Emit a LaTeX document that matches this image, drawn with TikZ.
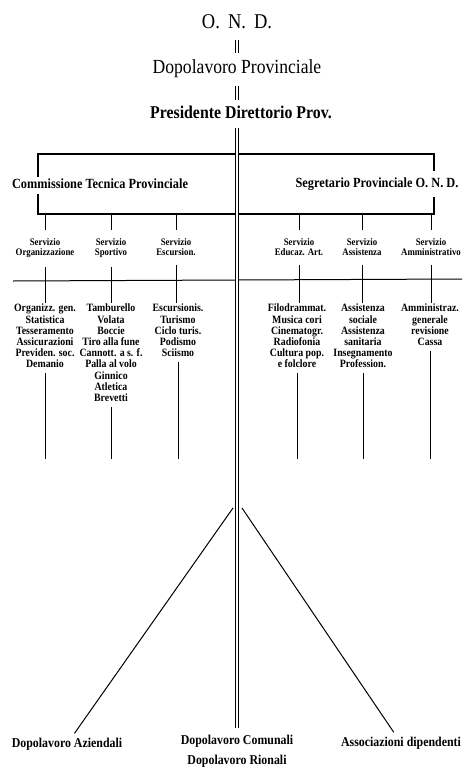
\documentclass[tikz,border=0pt]{standalone}
\usepackage{fontspec}
\setmainfont{Liberation Serif}
\newfontfamily\condfont{Liberation Serif}[FakeStretch=0.88]
\usetikzlibrary{positioning, calc}

\begin{document}
\begin{tikzpicture}[
    x=1pt, y=-1pt,
    % Styles
    top_text/.style={font=\condfont\fontsize{20}{24}\selectfont, inner sep=1pt, anchor=base},
    pres_text/.style={font=\condfont\bfseries\fontsize{18}{22}\selectfont, inner sep=1pt, anchor=base},
    head/.style={font=\condfont\bfseries\fontsize{14}{17}\selectfont, inner sep=1pt, anchor=base},
    servizio/.style={font=\condfont\bfseries\fontsize{10}{10.5}\selectfont, align=center, inner sep=1pt, anchor=north},
    elenco/.style={font=\condfont\bfseries\fontsize{11.2}{11.2}\selectfont, align=center, inner sep=1pt, anchor=north},
    base_text/.style={font=\condfont\bfseries\fontsize{13.5}{20}\selectfont, align=center, inner sep=1pt},
    wire/.style={line width=1.0pt},
    frame/.style={line width=1.3pt},
    spine/.style={double, double distance=2.2pt, line width=0.9pt},
    link/.style={double, double distance=1.4pt, line width=0.9pt}
]
    \useasboundingbox (0,0) rectangle (466,771);

    % --- TOP ---
    \node[top_text, font=\condfont\fontsize{21}{24}\selectfont] (ond) at (237,28) {O.~\,N.~\,D.};
    \node[top_text] (dpv) at (237,73) {Dopolavoro Provinciale};
    \node[pres_text] (pres) at (241,118) {Presidente Direttorio Prov.};

    \draw[link, shorten <=11pt, shorten >=5pt] (ond.south) -- (dpv.north);
    \draw[link, shorten <=8pt, shorten >=4pt] (dpv.south) -- (dpv.south |- pres.north);

    % --- BRACKET ---
    \coordinate (bTL) at (38,154);
    \coordinate (bBR) at (434,214);
    \node[head] (comm) at (100,188) {Commissione Tecnica Provinciale};
    \node[head] (segr) at (377,187) {Segretario Provinciale O. N. D.};

    \draw[frame] (bTL |- comm.north) -- (bTL) -- (bTL -| bBR) -- ([yshift=5pt]bBR |- segr.north);
    \draw[frame, shorten <=5pt] (bTL |- comm.south) -- (bTL |- bBR) -- (bBR) -- ([yshift=-6pt]bBR |- segr.south);

    % --- SERVIZI ---
    \node[servizio] (s1) at (45,237) {Servizio\\Organizzazione};
    \node[servizio] (s2) at (111,237) {Servizio\\Sportivo};
    \node[servizio] (s3) at (176,237) {Servizio\\Escursion.};
    \node[servizio] (s4) at (299,237) {Servizio\\Educaz. Art.};
    \node[servizio] (s5) at (362,237) {Servizio\\Assistenza};
    \node[servizio] (s6) at (431,237) {Servizio\\Amministrativo};

    % Ticks from the bracket
    \draw[wire, shorten >=7pt] (s1.north |- bBR) -- (s1.north);
    \draw[wire, shorten >=7pt] (s2.north |- bBR) -- (s2.north);
    \draw[wire, shorten >=7pt] (s3.north |- bBR) -- (s3.north);
    \draw[wire, shorten >=7pt] (s4.north |- bBR) -- (s4.north);
    \draw[wire, shorten >=7pt] (s5.north |- bBR) -- (s5.north);
    \draw[wire, shorten >=7pt] (s6.north |- bBR) -- (s6.north);

    % Rule under the services
    \coordinate (hL) at (13,281);
    \coordinate (hR) at (462,279);
    \draw[wire] (hL) -- (hR);

    % --- ELENCHI ---
    \node[elenco] (l1) at (45,303) {Organizz. gen.\\Statistica\\Tesseramento\\Assicurazioni\\Previden. soc.\\Demanio};
    \node[elenco] (l2) at (111,303) {Tamburello\\Volata\\Boccie\\Tiro alla fune\\Cannott. a s. f.\\Palla al volo\\Ginnico\\Atletica\\Brevetti};
    \node[elenco] (l3) at (178,303) {Escursionis.\\Turismo\\Ciclo turis.\\Podismo\\Sciismo};
    \node[elenco] (l4) at (297,303) {Filodrammat.\\Musica cori\\Cinematogr.\\Radiofonia\\Cultura pop.\\e folclore};
    \node[elenco] (l5) at (363,303) {Assistenza\\sociale\\Assistenza\\sanitaria\\Insegnamento\\Profession.};
    \node[elenco] (l6) at (430,303) {Amministraz.\\generale\\revisione\\Cassa};

    % Ticks across the rule
    \draw[wire, shorten <=8pt] (s1.south) -- (s1.south |- l1.north);
    \draw[wire, shorten <=8pt] (s2.south) -- (s2.south |- l2.north);
    \draw[wire, shorten <=8pt] (s3.south) -- (s3.south |- l3.north);
    \draw[wire, shorten <=8pt] (s4.south) -- (s4.south |- l4.north);
    \draw[wire, shorten <=8pt] (s5.south) -- (s5.south |- l5.north);
    \draw[wire, shorten <=8pt] (s6.south) -- (s6.south |- l6.north);

    % Tails
    \coordinate (tail) at (0,459);
    \draw[wire, shorten <=4pt] (l1.south) -- (l1.south |- tail);
    \draw[wire, shorten <=4pt] (l2.south) -- (l2.south |- tail);
    \draw[wire, shorten <=4pt] (l3.south) -- (l3.south |- tail);
    \draw[wire, shorten <=4pt] (l4.south) -- (l4.south |- tail);
    \draw[wire, shorten <=4pt] (l5.south) -- (l5.south |- tail);
    \draw[wire, shorten <=4pt] (l6.south) -- (l6.south |- tail);

    % --- BASE ---
    \coordinate (forkL) at (233,508);
    \coordinate (forkR) at (242,508);
    \node[base_text] (azi) at (67,744) {Dopolavoro Aziendali};
    \node[base_text, anchor=north] (dcom) at (237,734) {Dopolavoro Comunali\\Dopolavoro Rionali};
    \node[base_text] (assoc) at (401,743) {Associazioni dipendenti};

    \draw[wire, shorten >=4pt] (forkL) -- (azi);
    \draw[wire, shorten >=4pt] (forkR) -- (assoc);

    % Main line
    \draw[spine, shorten <=9pt, shorten >=6pt] (pres.south -| dcom.north) -- (dcom.north);

\end{tikzpicture}
\end{document}
